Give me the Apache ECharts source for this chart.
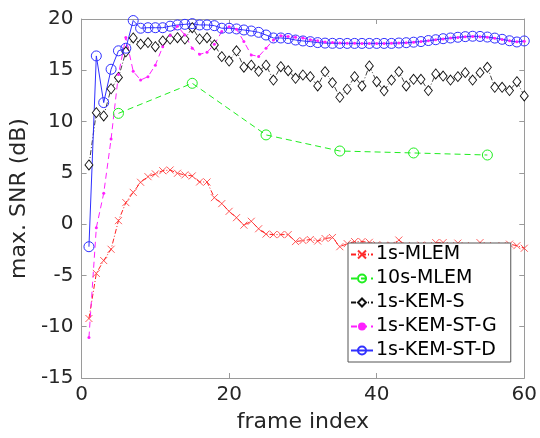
<!DOCTYPE html>
<html>
<head>
<meta charset="utf-8">
<script src="https://cdn.jsdelivr.net/npm/echarts@6/dist/echarts.min.js"></script>
<style>
  html, body { margin: 0; padding: 0; background: #fff; }
  #chart { width: 540px; height: 438px; }
</style>
</head>
<body>
<div id="chart"></div>
<script>
// frame index for the 1 s series, and for the 10 s series
var frames = [];
for (var i = 1; i <= 60; i++) frames.push(i);
var frames10 = [5, 15, 25, 35, 45, 55];

var mlem1 = [-9.2, -4.8, -3.55, -2.45, 0.34, 2.1, 3.1, 4.08, 4.63, 4.9,
  5.21, 5.28, 4.96, 4.8, 4.7, 4.11, 4.11, 2.58, 2.0, 1.25,
  0.63, -0.1, 0.28, -0.45, -0.97, -1.02, -1.02, -1.02, -1.7, -1.6,
  -1.5, -1.65, -1.4, -1.3, -2.2, -1.9, -1.7, -1.7, -1.77, -2.0,
  -2.1, -2.05, -1.55, -2.1, -2.2, -2.05, -2.1, -1.8, -1.8, -2.1,
  -1.85, -2.1, -2.2, -1.8, -2.1, -2.2, -2.1, -1.95, -2.1, -2.35];

var mlem10 = [10.8, 13.73, 8.7, 7.13, 6.94, 6.74];

var kemS = [5.77, 10.87, 10.55, 13.2, 14.3, 16.8, 18.15, 17.55, 17.7, 17.3,
  17.86, 18.05, 18.18, 18.05, 19.15, 18.05, 18.18, 17.47, 16.33, 15.9,
  16.9, 15.3, 15.5, 14.9, 15.5, 14.05, 15.35, 14.96, 14.22, 14.54,
  14.38, 13.47, 14.87, 13.8, 12.37, 13.15, 14.38, 13.47, 15.42, 13.89,
  13.0, 14.05, 14.87, 13.47, 14.12, 14.12, 13.02, 14.64, 14.44, 14.05,
  14.38, 14.77, 14.05, 14.77, 15.29, 13.34, 13.34, 13.02, 13.89, 12.5];

var kemSTG = [-11.06, -0.35, 3.0, 8.3, 14.6, 18.2, 14.9, 14.05, 14.38, 15.5,
  17.3, 18.4, 19.3, 18.44, 17.14, 16.56, 16.75, 17.53, 18.77, 19.25,
  19.0, 17.8, 16.5, 16.35, 17.14, 17.95, 18.36, 18.3, 18.22, 18.15,
  17.98, 17.88, 17.75, 17.7, 17.66, 17.64, 17.63, 17.62, 17.62, 17.62,
  17.62, 17.63, 17.66, 17.69, 17.74, 17.8, 17.88, 17.97, 18.06, 18.14,
  18.2, 18.26, 18.3, 18.28, 18.22, 18.12, 18.0, 17.88, 17.78, 17.84];

var kemSTD = [-2.2, 16.4, 11.85, 15.1, 16.9, 17.15, 19.85, 19.1, 19.15, 19.15,
  19.15, 19.3, 19.42, 19.48, 19.55, 19.42, 19.42, 19.35, 19.1, 19.1,
  19.03, 18.93, 18.83, 18.7, 18.44, 18.15, 18.15, 18.1, 17.95, 17.86,
  17.79, 17.7, 17.65, 17.63, 17.62, 17.62, 17.62, 17.62, 17.62, 17.62,
  17.62, 17.62, 17.66, 17.69, 17.74, 17.8, 17.9, 17.98, 18.08, 18.15,
  18.22, 18.28, 18.32, 18.3, 18.24, 18.14, 18.02, 17.88, 17.76, 17.86];

var xTicks = [0, 20, 40, 60];
var yTicks = [-15, -10, -5, 0, 5, 10, 15, 20];

function pairs(xs, ys) {
  return xs.map(function (x, k) { return [x, ys[k]]; });
}

var font = 'DejaVu Sans';
var axisColor = '#9a9a9a';
var textColor = '#262626';

var chart = echarts.init(document.getElementById('chart'));
var option = {
  animation: false,
  backgroundColor: '#fff',
  grid: { left: 80, right: 14, top: 19, bottom: 60, show: false },
  legend: {
    orient: 'vertical',
    left: 348,
    top: 243,
    width: 164,
    backgroundColor: '#fff',
    borderColor: '#555',
    borderWidth: 1,
    borderRadius: 0,
    padding: [2, 14, 2, 2],
    itemWidth: 22,
    itemHeight: 10,
    itemGap: 5,
    textStyle: { fontFamily: font, fontSize: 19, color: '#000', padding: [0, 0, 0, -2] },
    data: ['1s-MLEM', '10s-MLEM', '1s-KEM-S', '1s-KEM-ST-G', '1s-KEM-ST-D']
  },
  xAxis: [{
    type: 'value', min: xTicks[0], max: xTicks[xTicks.length - 1], interval: 20,
    name: 'frame index', nameLocation: 'middle', nameGap: 33,
    nameTextStyle: { fontFamily: font, fontSize: 22, color: textColor },
    axisLine: { show: true, onZero: false, lineStyle: { color: axisColor, width: 1 } },
    axisTick: { show: true, inside: true, length: 5, lineStyle: { color: axisColor } },
    axisLabel: { fontFamily: font, fontSize: 20, color: textColor, margin: 7 },
    splitLine: { show: false }
  }, {
    type: 'value', position: 'top', min: 0, max: 60, interval: 20,
    axisLine: { show: true, onZero: false, lineStyle: { color: axisColor, width: 1 } },
    axisTick: { show: true, inside: true, length: 5, lineStyle: { color: axisColor } },
    axisLabel: { show: false },
    splitLine: { show: false }
  }],
  yAxis: [{
    type: 'value', min: yTicks[0], max: yTicks[yTicks.length - 1], interval: 5,
    name: 'max. SNR (dB)', nameLocation: 'middle', nameGap: 42,
    nameTextStyle: { fontFamily: font, fontSize: 22, color: textColor },
    axisLine: { show: true, onZero: false, lineStyle: { color: axisColor, width: 1 } },
    axisTick: { show: true, inside: true, length: 5, lineStyle: { color: axisColor } },
    axisLabel: { fontFamily: font, fontSize: 20, color: textColor, margin: 8 },
    splitLine: { show: false }
  }, {
    type: 'value', position: 'right', min: -15, max: 20, interval: 5,
    axisLine: { show: true, onZero: false, lineStyle: { color: axisColor, width: 1 } },
    axisTick: { show: true, inside: true, length: 5, lineStyle: { color: axisColor } },
    axisLabel: { show: false },
    splitLine: { show: false }
  }],
  series: [{
    name: '1s-MLEM', type: 'line', data: pairs(frames, mlem1),
    symbol: 'path://M0,0L10,10M10,0L0,10', symbolSize: 7,
    lineStyle: { color: '#ff2020', width: 1, type: [5, 2, 1, 2] },
    itemStyle: { color: 'rgba(0,0,0,0)', borderColor: '#ff3030', borderWidth: 0.8 }
  }, {
    name: '10s-MLEM', type: 'line', data: pairs(frames10, mlem10),
    symbol: 'circle', symbolSize: 10,
    lineStyle: { color: '#20ee20', width: 1, type: [6, 4] },
    itemStyle: { color: 'rgba(0,0,0,0)', borderColor: '#20ee20', borderWidth: 1 }
  }, {
    name: '1s-KEM-S', type: 'line', data: pairs(frames, kemS),
    symbol: 'diamond', symbolSize: [8, 10],
    lineStyle: { color: '#111', width: 0.8, type: [5, 2, 1, 2] },
    itemStyle: { color: '#ffffff', borderColor: '#111', borderWidth: 0.9 }
  }, {
    name: '1s-KEM-ST-G', type: 'line', data: pairs(frames, kemSTG),
    symbol: 'circle', symbolSize: 3,
    lineStyle: { color: '#ff20ff', width: 1, type: [6, 4] },
    itemStyle: { color: '#ff20ff', borderWidth: 0 }
  }, {
    name: '1s-KEM-ST-D', type: 'line', data: pairs(frames, kemSTD),
    symbol: 'circle', symbolSize: 10,
    lineStyle: { color: '#3030ff', width: 1 },
    itemStyle: { color: 'rgba(0,0,0,0)', borderColor: '#3030ff', borderWidth: 1 }
  }]
};
chart.setOption(option);
</script>
</body>
</html>
